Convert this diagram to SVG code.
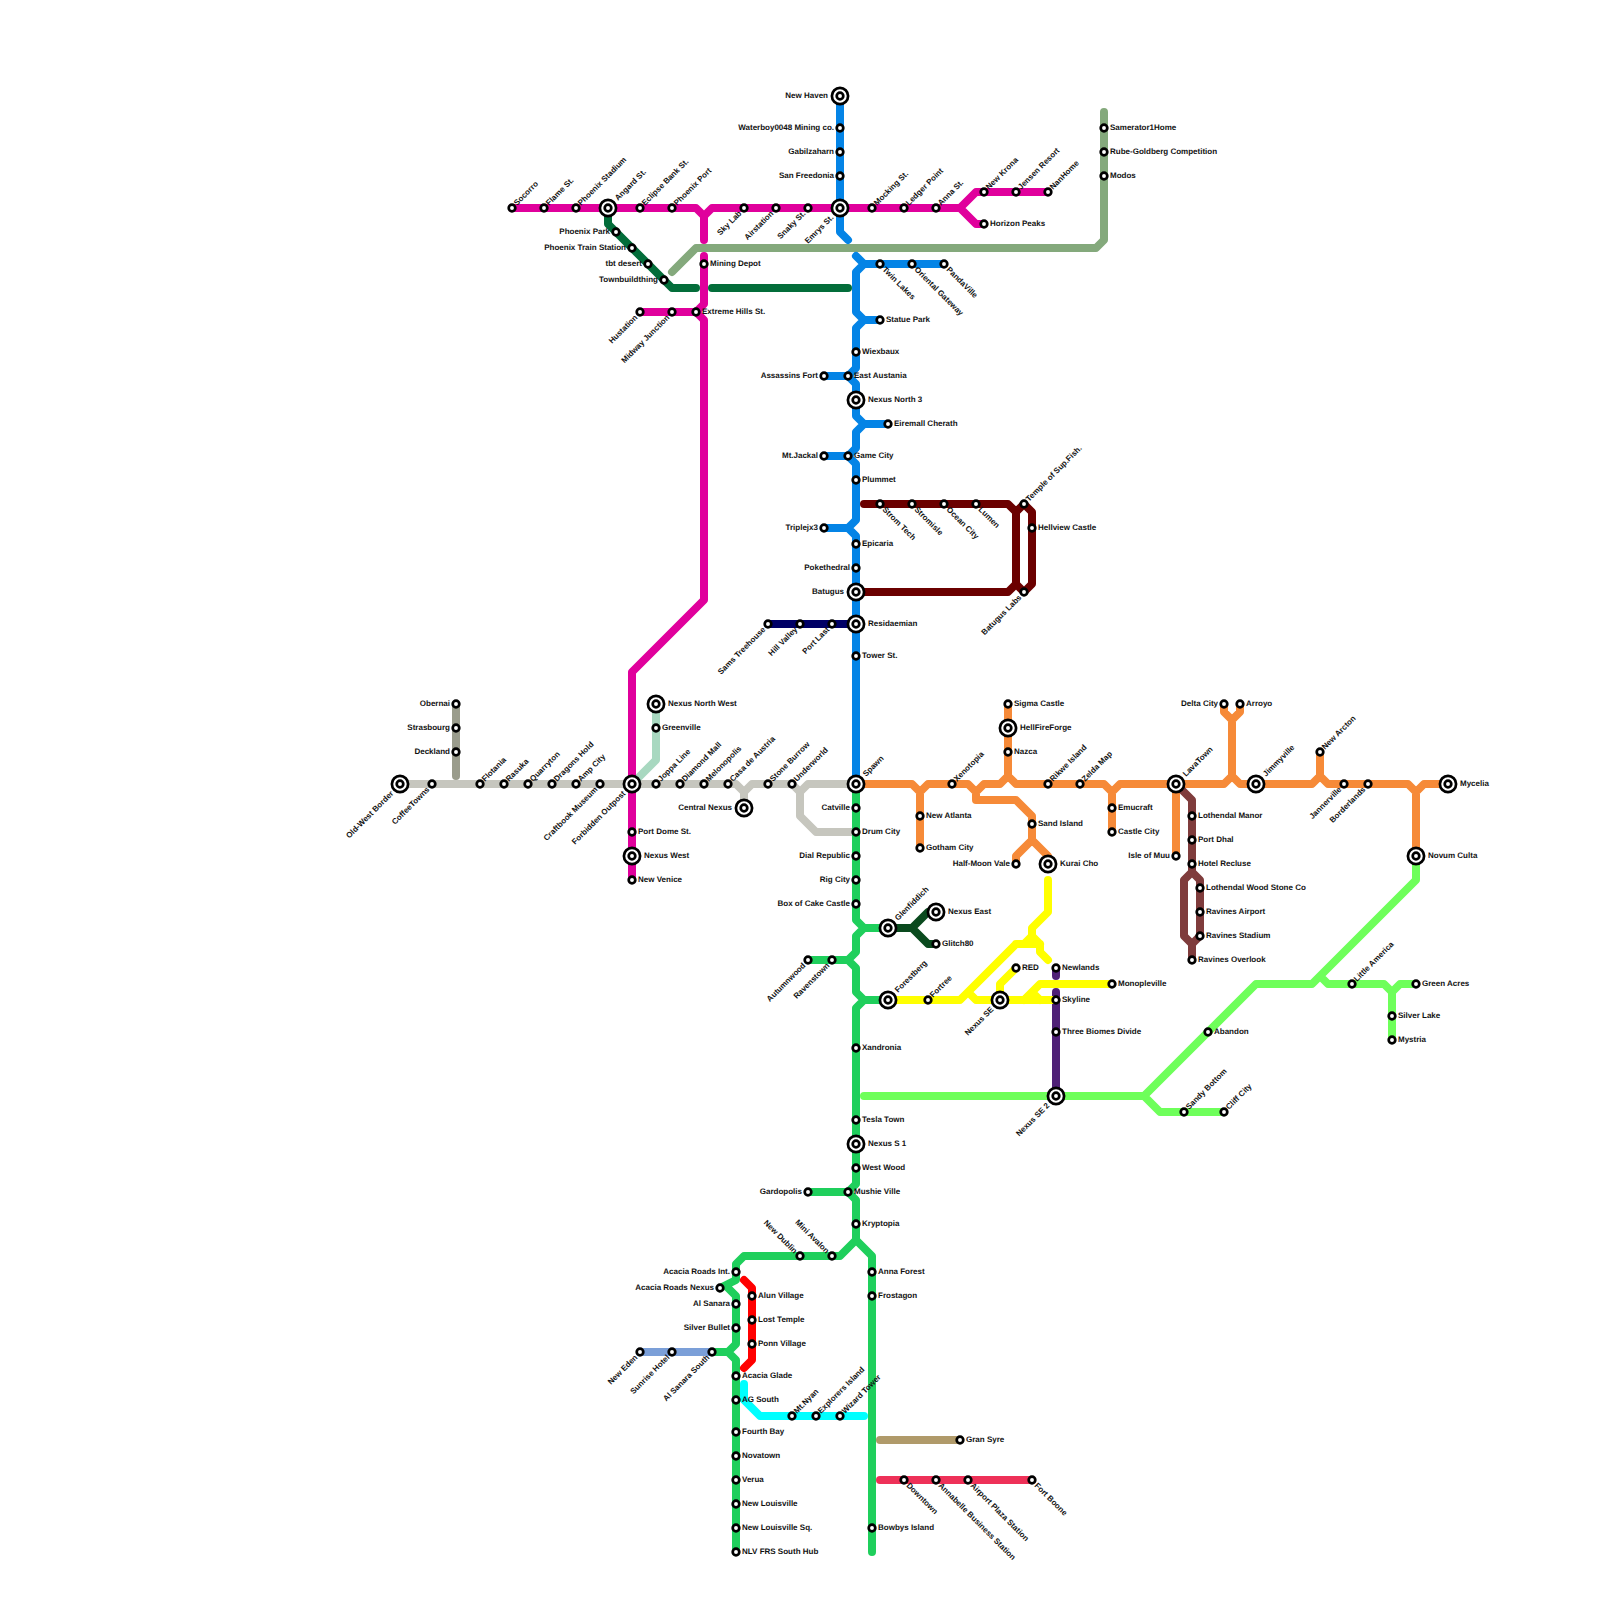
<svg xmlns="http://www.w3.org/2000/svg" width="1600" height="1600" viewBox="0 0 1600 1600">
<style>
.l{fill:none;stroke-width:8;stroke-linecap:round;stroke-linejoin:round}
.s{fill:#fff;stroke:#000;stroke-width:2.7}
text{font-family:"Liberation Sans",Arial,sans-serif;font-size:8px;font-weight:700;fill:#111;text-rendering:geometricPrecision}
.e{text-anchor:end}
</style>
<rect width="1600" height="1600" fill="#fff"/>
<g id="connectors">
<path class="l" stroke="#c6c6be" d="M400 784H736L744 792V808M744 792L752 784H792L800 792V816L816 832H856M800 792L808 784H856"/>
<path class="l" stroke="#9a9c8c" d="M456 704V776"/>
<path class="l" stroke="#a8d8c0" d="M656 704V760L632 784"/>
<path class="l" stroke="#84a97c" d="M672 272L696 248H1096L1104 240V112"/>
<path class="l" stroke="#0484e6" d="M840 96V232L848 240M856 256L864 264H944M864 264L856 272V312L864 320H880M864 320L856 328V368L848 376H824M848 376L856 384V416L864 424H888M864 424L856 432V448L848 456H824M848 456L856 464V520L848 528H824M848 528L856 536V784"/>
<path class="l" stroke="#e0009c" d="M512 208H696L704 216V240M704 216L712 208H960L976 192H1048M960 208L976 224H984M704 256V304L696 312H640M696 312L704 320V600L632 672V880"/>
<path class="l" stroke="#036d3a" d="M608 208V224L672 288H696M712 288H848"/>
<path class="l" stroke="#6b0000" d="M864 504H1008L1016 512V584L1008 592H856M1016 512L1024 504L1032 512V584L1024 592L1016 584"/>
<path class="l" stroke="#000066" d="M768 624H856"/>
<path class="l" stroke="#f68a38" d="M856 784H912L920 792V848M920 792L928 784H968L976 792V800H1016L1032 816V840L1016 856V864M1032 840L1048 856V864M976 792L984 784H1000L1008 776V704M1008 776L1016 784H1104L1112 792V832M1112 792L1120 784H1224L1232 776V720L1224 712V704M1232 720L1240 712V704M1232 776L1240 784H1312L1320 776V752M1320 776L1328 784H1408L1416 792V856M1416 792L1424 784H1448M1176 784V856"/>
<path class="l" stroke="#7f3c3c" d="M1176 784L1192 800V872L1184 880V936L1192 944V960M1192 872L1200 880V936L1192 944"/>
<path class="l" stroke="#6eff5a" d="M864 1096H1144L1256 984H1312L1416 880V856M1144 1096L1160 1112H1224M1320 976L1328 984H1384L1392 992V1040M1392 992L1400 984H1416"/>
<path class="l" stroke="#4f2077" d="M1056 968V976M1056 992V1096"/>
<path class="l" stroke="#1fcf5c" d="M856 784V920L864 928H888M864 928L856 936V952L848 960H808M848 960L856 968V992L864 1000H888M864 1000L856 1008V1184L848 1192H808M848 1192L856 1200V1240L840 1256H744L736 1264V1280L720 1288M728 1288L736 1296V1344L728 1352H712M728 1352L736 1360V1552M856 1240L872 1256V1552"/>
<path class="l" stroke="#ffff00" d="M1048 880V912L1032 928V936L1024 944H1016L960 1000H888M1016 944H1040V952L1048 960M1032 936L1040 944M968 992L976 1000H1056M1016 968L1000 984V1000M1024 1000L1040 984H1112M1032 992L1040 1000"/>
<path class="l" stroke="#0a4a1e" d="M888 928H912L928 912H936M912 928L928 944H936"/>
<path class="l" stroke="#ff0000" d="M744 1280L752 1288V1360L744 1368"/>
<path class="l" stroke="#7b9fd8" d="M640 1352H712"/>
<path class="l" stroke="#00ffff" d="M744 1384V1400L760 1416H864"/>
<path class="l" stroke="#b09a6a" d="M880 1440H960"/>
<path class="l" stroke="#ee3158" d="M880 1480H1032"/>
</g>
<g id="stations">
<defs>
<g id="sm"><circle class="s" r="3.3"/></g>
<g id="lg"><circle class="s" r="8.1"/><circle class="s" r="3.3"/></g>
</defs>
<g id="n001"><use href="#sm" x="512" y="208"/><text transform="translate(517 206) rotate(-45)">Socorro</text></g>
<g id="n002"><use href="#sm" x="544" y="208"/><text transform="translate(549 206) rotate(-45)">Flame St.</text></g>
<g id="n003"><use href="#sm" x="576" y="208"/><text transform="translate(581 206) rotate(-45)">Phoenix Stadium</text></g>
<g id="n004"><use href="#lg" x="608" y="208"/><text transform="translate(618 201) rotate(-45)">Angard St.</text></g>
<g id="n005"><use href="#sm" x="640" y="208"/><text transform="translate(645 206) rotate(-45)">Eclipse Bank St.</text></g>
<g id="n006"><use href="#sm" x="672" y="208"/><text transform="translate(677 206) rotate(-45)">Phoenix Port</text></g>
<g id="n007"><use href="#sm" x="744" y="208"/><text class="e" transform="translate(742 214) rotate(-45)">Sky Lab</text></g>
<g id="n008"><use href="#sm" x="776" y="208"/><text class="e" transform="translate(774 214) rotate(-45)">Airstation</text></g>
<g id="n009"><use href="#sm" x="808" y="208"/><text class="e" transform="translate(806 214) rotate(-45)">Snaky St.</text></g>
<g id="n010"><use href="#lg" x="840" y="208"/><text class="e" transform="translate(834 218) rotate(-45)">Emrys St.</text></g>
<g id="n011"><use href="#sm" x="872" y="208"/><text transform="translate(877 206) rotate(-45)">Mocking St.</text></g>
<g id="n012"><use href="#sm" x="904" y="208"/><text transform="translate(909 206) rotate(-45)">Ledger Point</text></g>
<g id="n013"><use href="#sm" x="936" y="208"/><text transform="translate(941 206) rotate(-45)">Anna St.</text></g>
<g id="n014"><use href="#sm" x="984" y="192"/><text transform="translate(989 190) rotate(-45)">New Krona</text></g>
<g id="n015"><use href="#sm" x="1016" y="192"/><text transform="translate(1021 190) rotate(-45)">Jensen Resort</text></g>
<g id="n016"><use href="#sm" x="1048" y="192"/><text transform="translate(1053 190) rotate(-45)">NanHome</text></g>
<g id="n017"><use href="#sm" x="984" y="224"/><text x="990" y="225.500">Horizon Peaks</text></g>
<g id="n018"><use href="#lg" x="840" y="96"/><text class="e" x="828" y="97.500">New Haven</text></g>
<g id="n019"><use href="#sm" x="840" y="128"/><text class="e" x="834" y="129.500">Waterboy0048 Mining co.</text></g>
<g id="n020"><use href="#sm" x="840" y="152"/><text class="e" x="834" y="153.500">Gabilzaharn</text></g>
<g id="n021"><use href="#sm" x="840" y="176"/><text class="e" x="834" y="177.500">San Freedonia</text></g>
<g id="n022"><use href="#sm" x="616" y="232"/><text class="e" x="610" y="233.500">Phoenix Park</text></g>
<g id="n023"><use href="#sm" x="632" y="248"/><text class="e" x="626" y="249.500">Phoenix Train Station</text></g>
<g id="n024"><use href="#sm" x="648" y="264"/><text class="e" x="642" y="265.500">tbt desert</text></g>
<g id="n025"><use href="#sm" x="664" y="280"/><text class="e" x="658" y="281.500">Townbuildthing</text></g>
<g id="n026"><use href="#sm" x="704" y="264"/><text x="710" y="265.500">Mining Depot</text></g>
<g id="n027"><use href="#sm" x="640" y="312"/><text class="e" transform="translate(638 318) rotate(-45)">Hustation</text></g>
<g id="n028"><use href="#sm" x="672" y="312"/><text class="e" transform="translate(670 318) rotate(-45)">Midway Junction</text></g>
<g id="n029"><use href="#sm" x="696" y="312"/><text x="702" y="313.500">Extreme Hills St.</text></g>
<g id="n030"><use href="#sm" x="880" y="264"/><text transform="translate(882 270) rotate(45)">Twin Lakes</text></g>
<g id="n031"><use href="#sm" x="912" y="264"/><text transform="translate(914 270) rotate(45)">Oriental Gateway</text></g>
<g id="n032"><use href="#sm" x="944" y="264"/><text transform="translate(946 270) rotate(45)">PandaVille</text></g>
<g id="n033"><use href="#sm" x="880" y="320"/><text x="886" y="321.500">Statue Park</text></g>
<g id="n034"><use href="#sm" x="856" y="352"/><text x="862" y="353.500">Wiexbaux</text></g>
<g id="n035"><use href="#sm" x="824" y="376"/><text class="e" x="818" y="377.500">Assassins Fort</text></g>
<g id="n036"><use href="#sm" x="848" y="376"/><text x="854" y="377.500">East Austania</text></g>
<g id="n037"><use href="#lg" x="856" y="400"/><text x="868" y="401.500">Nexus North 3</text></g>
<g id="n038"><use href="#sm" x="888" y="424"/><text x="894" y="425.500">Eiremall Cherath</text></g>
<g id="n039"><use href="#sm" x="824" y="456"/><text class="e" x="818" y="457.500">Mt.Jackal</text></g>
<g id="n040"><use href="#sm" x="848" y="456"/><text x="854" y="457.500">Game City</text></g>
<g id="n041"><use href="#sm" x="856" y="480"/><text x="862" y="481.500">Plummet</text></g>
<g id="n042"><use href="#sm" x="824" y="528"/><text class="e" x="818" y="529.500">Triplejx3</text></g>
<g id="n043"><use href="#sm" x="856" y="544"/><text x="862" y="545.500">Epicaria</text></g>
<g id="n044"><use href="#sm" x="856" y="568"/><text class="e" x="850" y="569.500">Pokethedral</text></g>
<g id="n045"><use href="#lg" x="856" y="592"/><text class="e" x="844" y="593.500">Batugus</text></g>
<g id="n046"><use href="#lg" x="856" y="624"/><text x="868" y="625.500">Residaemian</text></g>
<g id="n047"><use href="#sm" x="856" y="656"/><text x="862" y="657.500">Tower St.</text></g>
<g id="n048"><use href="#sm" x="880" y="504"/><text transform="translate(882 510) rotate(45)">Strom Tech</text></g>
<g id="n049"><use href="#sm" x="912" y="504"/><text transform="translate(914 510) rotate(45)">Stromisle</text></g>
<g id="n050"><use href="#sm" x="944" y="504"/><text transform="translate(946 510) rotate(45)">Ocean City</text></g>
<g id="n051"><use href="#sm" x="976" y="504"/><text transform="translate(978 510) rotate(45)">Lumen</text></g>
<g id="n052"><use href="#sm" x="1024" y="504"/><text transform="translate(1029 502) rotate(-45)">Temple of Sup.Fish.</text></g>
<g id="n053"><use href="#sm" x="1032" y="528"/><text x="1038" y="529.500">Hellview Castle</text></g>
<g id="n054"><use href="#sm" x="1024" y="592"/><text class="e" transform="translate(1022 598) rotate(-45)">Batugus Labs</text></g>
<g id="n055"><use href="#sm" x="768" y="624"/><text class="e" transform="translate(766 630) rotate(-45)">Sams Treehouse</text></g>
<g id="n056"><use href="#sm" x="800" y="624"/><text class="e" transform="translate(798 630) rotate(-45)">Hill Valley</text></g>
<g id="n057"><use href="#sm" x="832" y="624"/><text class="e" transform="translate(830 630) rotate(-45)">Port Last</text></g>
<g id="n058"><use href="#sm" x="456" y="704"/><text class="e" x="450" y="705.500">Obernai</text></g>
<g id="n059"><use href="#sm" x="456" y="728"/><text class="e" x="450" y="729.500">Strasbourg</text></g>
<g id="n060"><use href="#sm" x="456" y="752"/><text class="e" x="450" y="753.500">Deckland</text></g>
<g id="n061"><use href="#lg" x="400" y="784"/><text class="e" transform="translate(394 794) rotate(-45)">Old-West Border</text></g>
<g id="n062"><use href="#sm" x="432" y="784"/><text class="e" transform="translate(430 790) rotate(-45)">CoffeeTowns</text></g>
<g id="n063"><use href="#sm" x="480" y="784"/><text transform="translate(485 782) rotate(-45)">Flotania</text></g>
<g id="n064"><use href="#sm" x="504" y="784"/><text transform="translate(509 782) rotate(-45)">Rasuka</text></g>
<g id="n065"><use href="#sm" x="528" y="784"/><text transform="translate(533 782) rotate(-45)">Quarryton</text></g>
<g id="n066"><use href="#sm" x="552" y="784"/><text transform="translate(557 782) rotate(-45)">Dragons Hold</text></g>
<g id="n067"><use href="#sm" x="576" y="784"/><text transform="translate(581 782) rotate(-45)">Amp City</text></g>
<g id="n068"><use href="#sm" x="600" y="784"/><text class="e" transform="translate(598 790) rotate(-45)">Craftbook Museum</text></g>
<g id="n069"><use href="#lg" x="632" y="784"/><text class="e" transform="translate(626 794) rotate(-45)">Forbidden Outpost</text></g>
<g id="n070"><use href="#sm" x="656" y="784"/><text transform="translate(661 782) rotate(-45)">Joppa Line</text></g>
<g id="n071"><use href="#sm" x="680" y="784"/><text transform="translate(685 782) rotate(-45)">Diamond Mall</text></g>
<g id="n072"><use href="#sm" x="704" y="784"/><text transform="translate(709 782) rotate(-45)">Melonopolis</text></g>
<g id="n073"><use href="#sm" x="728" y="784"/><text transform="translate(733 782) rotate(-45)">Casa de Austria</text></g>
<g id="n074"><use href="#lg" x="744" y="808"/><text class="e" x="732" y="809.500">Central Nexus</text></g>
<g id="n075"><use href="#sm" x="768" y="784"/><text transform="translate(773 782) rotate(-45)">Stone Burrow</text></g>
<g id="n076"><use href="#sm" x="792" y="784"/><text transform="translate(797 782) rotate(-45)">Underworld</text></g>
<g id="n077"><use href="#lg" x="856" y="784"/><text transform="translate(866 777) rotate(-45)">Spawn</text></g>
<g id="n078"><use href="#lg" x="656" y="704"/><text x="668" y="705.500">Nexus North West</text></g>
<g id="n079"><use href="#sm" x="656" y="728"/><text x="662" y="729.500">Greenville</text></g>
<g id="n080"><use href="#sm" x="632" y="832"/><text x="638" y="833.500">Port Dome St.</text></g>
<g id="n081"><use href="#lg" x="632" y="856"/><text x="644" y="857.500">Nexus West</text></g>
<g id="n082"><use href="#sm" x="632" y="880"/><text x="638" y="881.500">New Venice</text></g>
<g id="n083"><use href="#sm" x="856" y="808"/><text class="e" x="850" y="809.500">Catville</text></g>
<g id="n084"><use href="#sm" x="856" y="832"/><text x="862" y="833.500">Drum City</text></g>
<g id="n085"><use href="#sm" x="856" y="856"/><text class="e" x="850" y="857.500">Dial Republic</text></g>
<g id="n086"><use href="#sm" x="856" y="880"/><text class="e" x="850" y="881.500">Rig City</text></g>
<g id="n087"><use href="#sm" x="856" y="904"/><text class="e" x="850" y="905.500">Box of Cake Castle</text></g>
<g id="n088"><use href="#lg" x="888" y="928"/><text transform="translate(898 921) rotate(-45)">Glenfiddich</text></g>
<g id="n089"><use href="#lg" x="936" y="912"/><text x="948" y="913.500">Nexus East</text></g>
<g id="n090"><use href="#sm" x="936" y="944"/><text x="942" y="945.500">Glitch80</text></g>
<g id="n091"><use href="#sm" x="808" y="960"/><text class="e" transform="translate(806 966) rotate(-45)">Autumnwood</text></g>
<g id="n092"><use href="#sm" x="832" y="960"/><text class="e" transform="translate(830 966) rotate(-45)">Ravenstown</text></g>
<g id="n093"><use href="#lg" x="888" y="1000"/><text transform="translate(898 993) rotate(-45)">Forestberg</text></g>
<g id="n094"><use href="#sm" x="928" y="1000"/><text transform="translate(933 998) rotate(-45)">Fortree</text></g>
<g id="n095"><use href="#lg" x="1000" y="1000"/><text class="e" transform="translate(994 1010) rotate(-45)">Nexus SE</text></g>
<g id="n096"><use href="#sm" x="1016" y="968"/><text x="1022" y="969.500">RED</text></g>
<g id="n097"><use href="#sm" x="1056" y="968"/><text x="1062" y="969.500">Newlands</text></g>
<g id="n098"><use href="#sm" x="1056" y="1000"/><text x="1062" y="1001.500">Skyline</text></g>
<g id="n099"><use href="#sm" x="1112" y="984"/><text x="1118" y="985.500">Monopleville</text></g>
<g id="n100"><use href="#sm" x="1056" y="1032"/><text x="1062" y="1033.500">Three Biomes Divide</text></g>
<g id="n101"><use href="#lg" x="1056" y="1096"/><text class="e" transform="translate(1050 1106) rotate(-45)">Nexus SE 2</text></g>
<g id="n102"><use href="#sm" x="856" y="1048"/><text x="862" y="1049.500">Xandronia</text></g>
<g id="n103"><use href="#sm" x="856" y="1120"/><text x="862" y="1121.500">Tesla Town</text></g>
<g id="n104"><use href="#lg" x="856" y="1144"/><text x="868" y="1145.500">Nexus S 1</text></g>
<g id="n105"><use href="#sm" x="856" y="1168"/><text x="862" y="1169.500">West Wood</text></g>
<g id="n106"><use href="#sm" x="808" y="1192"/><text class="e" x="802" y="1193.500">Gardopolis</text></g>
<g id="n107"><use href="#sm" x="848" y="1192"/><text x="854" y="1193.500">Mushie Ville</text></g>
<g id="n108"><use href="#sm" x="856" y="1224"/><text x="862" y="1225.500">Kryptopia</text></g>
<g id="n109"><use href="#sm" x="800" y="1256"/><text class="e" transform="translate(794 1254) rotate(45)">New Dublin</text></g>
<g id="n110"><use href="#sm" x="832" y="1256"/><text class="e" transform="translate(826 1254) rotate(45)">Mini Avalon</text></g>
<g id="n111"><use href="#sm" x="736" y="1272"/><text class="e" x="730" y="1273.500">Acacia Roads Int.</text></g>
<g id="n112"><use href="#sm" x="720" y="1288"/><text class="e" x="714" y="1289.500">Acacia Roads Nexus</text></g>
<g id="n113"><use href="#sm" x="736" y="1304"/><text class="e" x="730" y="1305.500">Al Sanara</text></g>
<g id="n114"><use href="#sm" x="736" y="1328"/><text class="e" x="730" y="1329.500">Silver Bullet</text></g>
<g id="n115"><use href="#sm" x="640" y="1352"/><text class="e" transform="translate(638 1358) rotate(-45)">New Eden</text></g>
<g id="n116"><use href="#sm" x="672" y="1352"/><text class="e" transform="translate(670 1358) rotate(-45)">Sunrise Hotel</text></g>
<g id="n117"><use href="#sm" x="712" y="1352"/><text class="e" transform="translate(710 1358) rotate(-45)">Al Sanara South</text></g>
<g id="n118"><use href="#sm" x="752" y="1296"/><text x="758" y="1297.500">Alun Village</text></g>
<g id="n119"><use href="#sm" x="752" y="1320"/><text x="758" y="1321.500">Lost Temple</text></g>
<g id="n120"><use href="#sm" x="752" y="1344"/><text x="758" y="1345.500">Ponn Village</text></g>
<g id="n121"><use href="#sm" x="736" y="1376"/><text x="742" y="1377.500">Acacia Glade</text></g>
<g id="n122"><use href="#sm" x="736" y="1400"/><text x="742" y="1401.500">AG South</text></g>
<g id="n123"><use href="#sm" x="736" y="1432"/><text x="742" y="1433.500">Fourth Bay</text></g>
<g id="n124"><use href="#sm" x="736" y="1456"/><text x="742" y="1457.500">Novatown</text></g>
<g id="n125"><use href="#sm" x="736" y="1480"/><text x="742" y="1481.500">Verua</text></g>
<g id="n126"><use href="#sm" x="736" y="1504"/><text x="742" y="1505.500">New Louisville</text></g>
<g id="n127"><use href="#sm" x="736" y="1528"/><text x="742" y="1529.500">New Louisville Sq.</text></g>
<g id="n128"><use href="#sm" x="736" y="1552"/><text x="742" y="1553.500">NLV FRS South Hub</text></g>
<g id="n129"><use href="#sm" x="792" y="1416"/><text transform="translate(797 1414) rotate(-45)">Mt.Nyan</text></g>
<g id="n130"><use href="#sm" x="816" y="1416"/><text transform="translate(821 1414) rotate(-45)">Explorers Island</text></g>
<g id="n131"><use href="#sm" x="840" y="1416"/><text transform="translate(845 1414) rotate(-45)">Wizard Tower</text></g>
<g id="n132"><use href="#sm" x="872" y="1272"/><text x="878" y="1273.500">Anna Forest</text></g>
<g id="n133"><use href="#sm" x="872" y="1296"/><text x="878" y="1297.500">Frostagon</text></g>
<g id="n134"><use href="#sm" x="872" y="1528"/><text x="878" y="1529.500">Bowbys Island</text></g>
<g id="n135"><use href="#sm" x="960" y="1440"/><text x="966" y="1441.500">Gran Syre</text></g>
<g id="n136"><use href="#sm" x="904" y="1480"/><text transform="translate(906 1486) rotate(45)">Downtown</text></g>
<g id="n137"><use href="#sm" x="936" y="1480"/><text transform="translate(938 1486) rotate(45)">Annabelle Business Station</text></g>
<g id="n138"><use href="#sm" x="968" y="1480"/><text transform="translate(970 1486) rotate(45)">Airport Plaza Station</text></g>
<g id="n139"><use href="#sm" x="1032" y="1480"/><text transform="translate(1034 1486) rotate(45)">Fort Boone</text></g>
<g id="n140"><use href="#sm" x="920" y="816"/><text x="926" y="817.500">New Atlanta</text></g>
<g id="n141"><use href="#sm" x="920" y="848"/><text x="926" y="849.500">Gotham City</text></g>
<g id="n142"><use href="#sm" x="952" y="784"/><text transform="translate(957 782) rotate(-45)">Xenotopia</text></g>
<g id="n143"><use href="#sm" x="1008" y="704"/><text x="1014" y="705.500">Sigma Castle</text></g>
<g id="n144"><use href="#lg" x="1008" y="728"/><text x="1020" y="729.500">HellFireForge</text></g>
<g id="n145"><use href="#sm" x="1008" y="752"/><text x="1014" y="753.500">Nazca</text></g>
<g id="n146"><use href="#sm" x="1048" y="784"/><text transform="translate(1053 782) rotate(-45)">Rikwe Island</text></g>
<g id="n147"><use href="#sm" x="1080" y="784"/><text transform="translate(1085 782) rotate(-45)">Zelda Map</text></g>
<g id="n148"><use href="#sm" x="1032" y="824"/><text x="1038" y="825.500">Sand Island</text></g>
<g id="n149"><use href="#sm" x="1016" y="864"/><text class="e" x="1010" y="865.500">Half-Moon Vale</text></g>
<g id="n150"><use href="#lg" x="1048" y="864"/><text x="1060" y="865.500">Kurai Cho</text></g>
<g id="n151"><use href="#sm" x="1112" y="808"/><text x="1118" y="809.500">Emucraft</text></g>
<g id="n152"><use href="#sm" x="1112" y="832"/><text x="1118" y="833.500">Castle City</text></g>
<g id="n153"><use href="#lg" x="1176" y="784"/><text transform="translate(1186 777) rotate(-45)">LavaTown</text></g>
<g id="n154"><use href="#sm" x="1176" y="856"/><text class="e" x="1170" y="857.500">Isle of Muu</text></g>
<g id="n155"><use href="#sm" x="1192" y="816"/><text x="1198" y="817.500">Lothendal Manor</text></g>
<g id="n156"><use href="#sm" x="1192" y="840"/><text x="1198" y="841.500">Port Dhal</text></g>
<g id="n157"><use href="#sm" x="1192" y="864"/><text x="1198" y="865.500">Hotel Recluse</text></g>
<g id="n158"><use href="#sm" x="1200" y="888"/><text x="1206" y="889.500">Lothendal Wood Stone Co</text></g>
<g id="n159"><use href="#sm" x="1200" y="912"/><text x="1206" y="913.500">Ravines Airport</text></g>
<g id="n160"><use href="#sm" x="1200" y="936"/><text x="1206" y="937.500">Ravines Stadium</text></g>
<g id="n161"><use href="#sm" x="1192" y="960"/><text x="1198" y="961.500">Ravines Overlook</text></g>
<g id="n162"><use href="#sm" x="1224" y="704"/><text class="e" x="1218" y="705.500">Delta City</text></g>
<g id="n163"><use href="#sm" x="1240" y="704"/><text x="1246" y="705.500">Arroyo</text></g>
<g id="n164"><use href="#lg" x="1256" y="784"/><text transform="translate(1266 777) rotate(-45)">Jimmyville</text></g>
<g id="n165"><use href="#sm" x="1320" y="752"/><text transform="translate(1325 750) rotate(-45)">New Arcton</text></g>
<g id="n166"><use href="#sm" x="1344" y="784"/><text class="e" transform="translate(1342 790) rotate(-45)">Jannerville</text></g>
<g id="n167"><use href="#sm" x="1368" y="784"/><text class="e" transform="translate(1366 790) rotate(-45)">Borderlands</text></g>
<g id="n168"><use href="#lg" x="1448" y="784"/><text x="1460" y="785.500">Mycelia</text></g>
<g id="n169"><use href="#lg" x="1416" y="856"/><text x="1428" y="857.500">Novum Culta</text></g>
<g id="n170"><use href="#sm" x="1352" y="984"/><text transform="translate(1357 982) rotate(-45)">Little America</text></g>
<g id="n171"><use href="#sm" x="1416" y="984"/><text x="1422" y="985.500">Green Acres</text></g>
<g id="n172"><use href="#sm" x="1392" y="1016"/><text x="1398" y="1017.500">Silver Lake</text></g>
<g id="n173"><use href="#sm" x="1392" y="1040"/><text x="1398" y="1041.500">Mystria</text></g>
<g id="n174"><use href="#sm" x="1208" y="1032"/><text x="1214" y="1033.500">Abandon</text></g>
<g id="n175"><use href="#sm" x="1184" y="1112"/><text transform="translate(1189 1110) rotate(-45)">Sandy Bottom</text></g>
<g id="n176"><use href="#sm" x="1224" y="1112"/><text transform="translate(1229 1110) rotate(-45)">Cliff City</text></g>
<g id="n177"><use href="#sm" x="1104" y="128"/><text x="1110" y="129.500">Samerator1Home</text></g>
<g id="n178"><use href="#sm" x="1104" y="152"/><text x="1110" y="153.500">Rube-Goldberg Competition</text></g>
<g id="n179"><use href="#sm" x="1104" y="176"/><text x="1110" y="177.500">Modos</text></g>
</g>
</svg>
